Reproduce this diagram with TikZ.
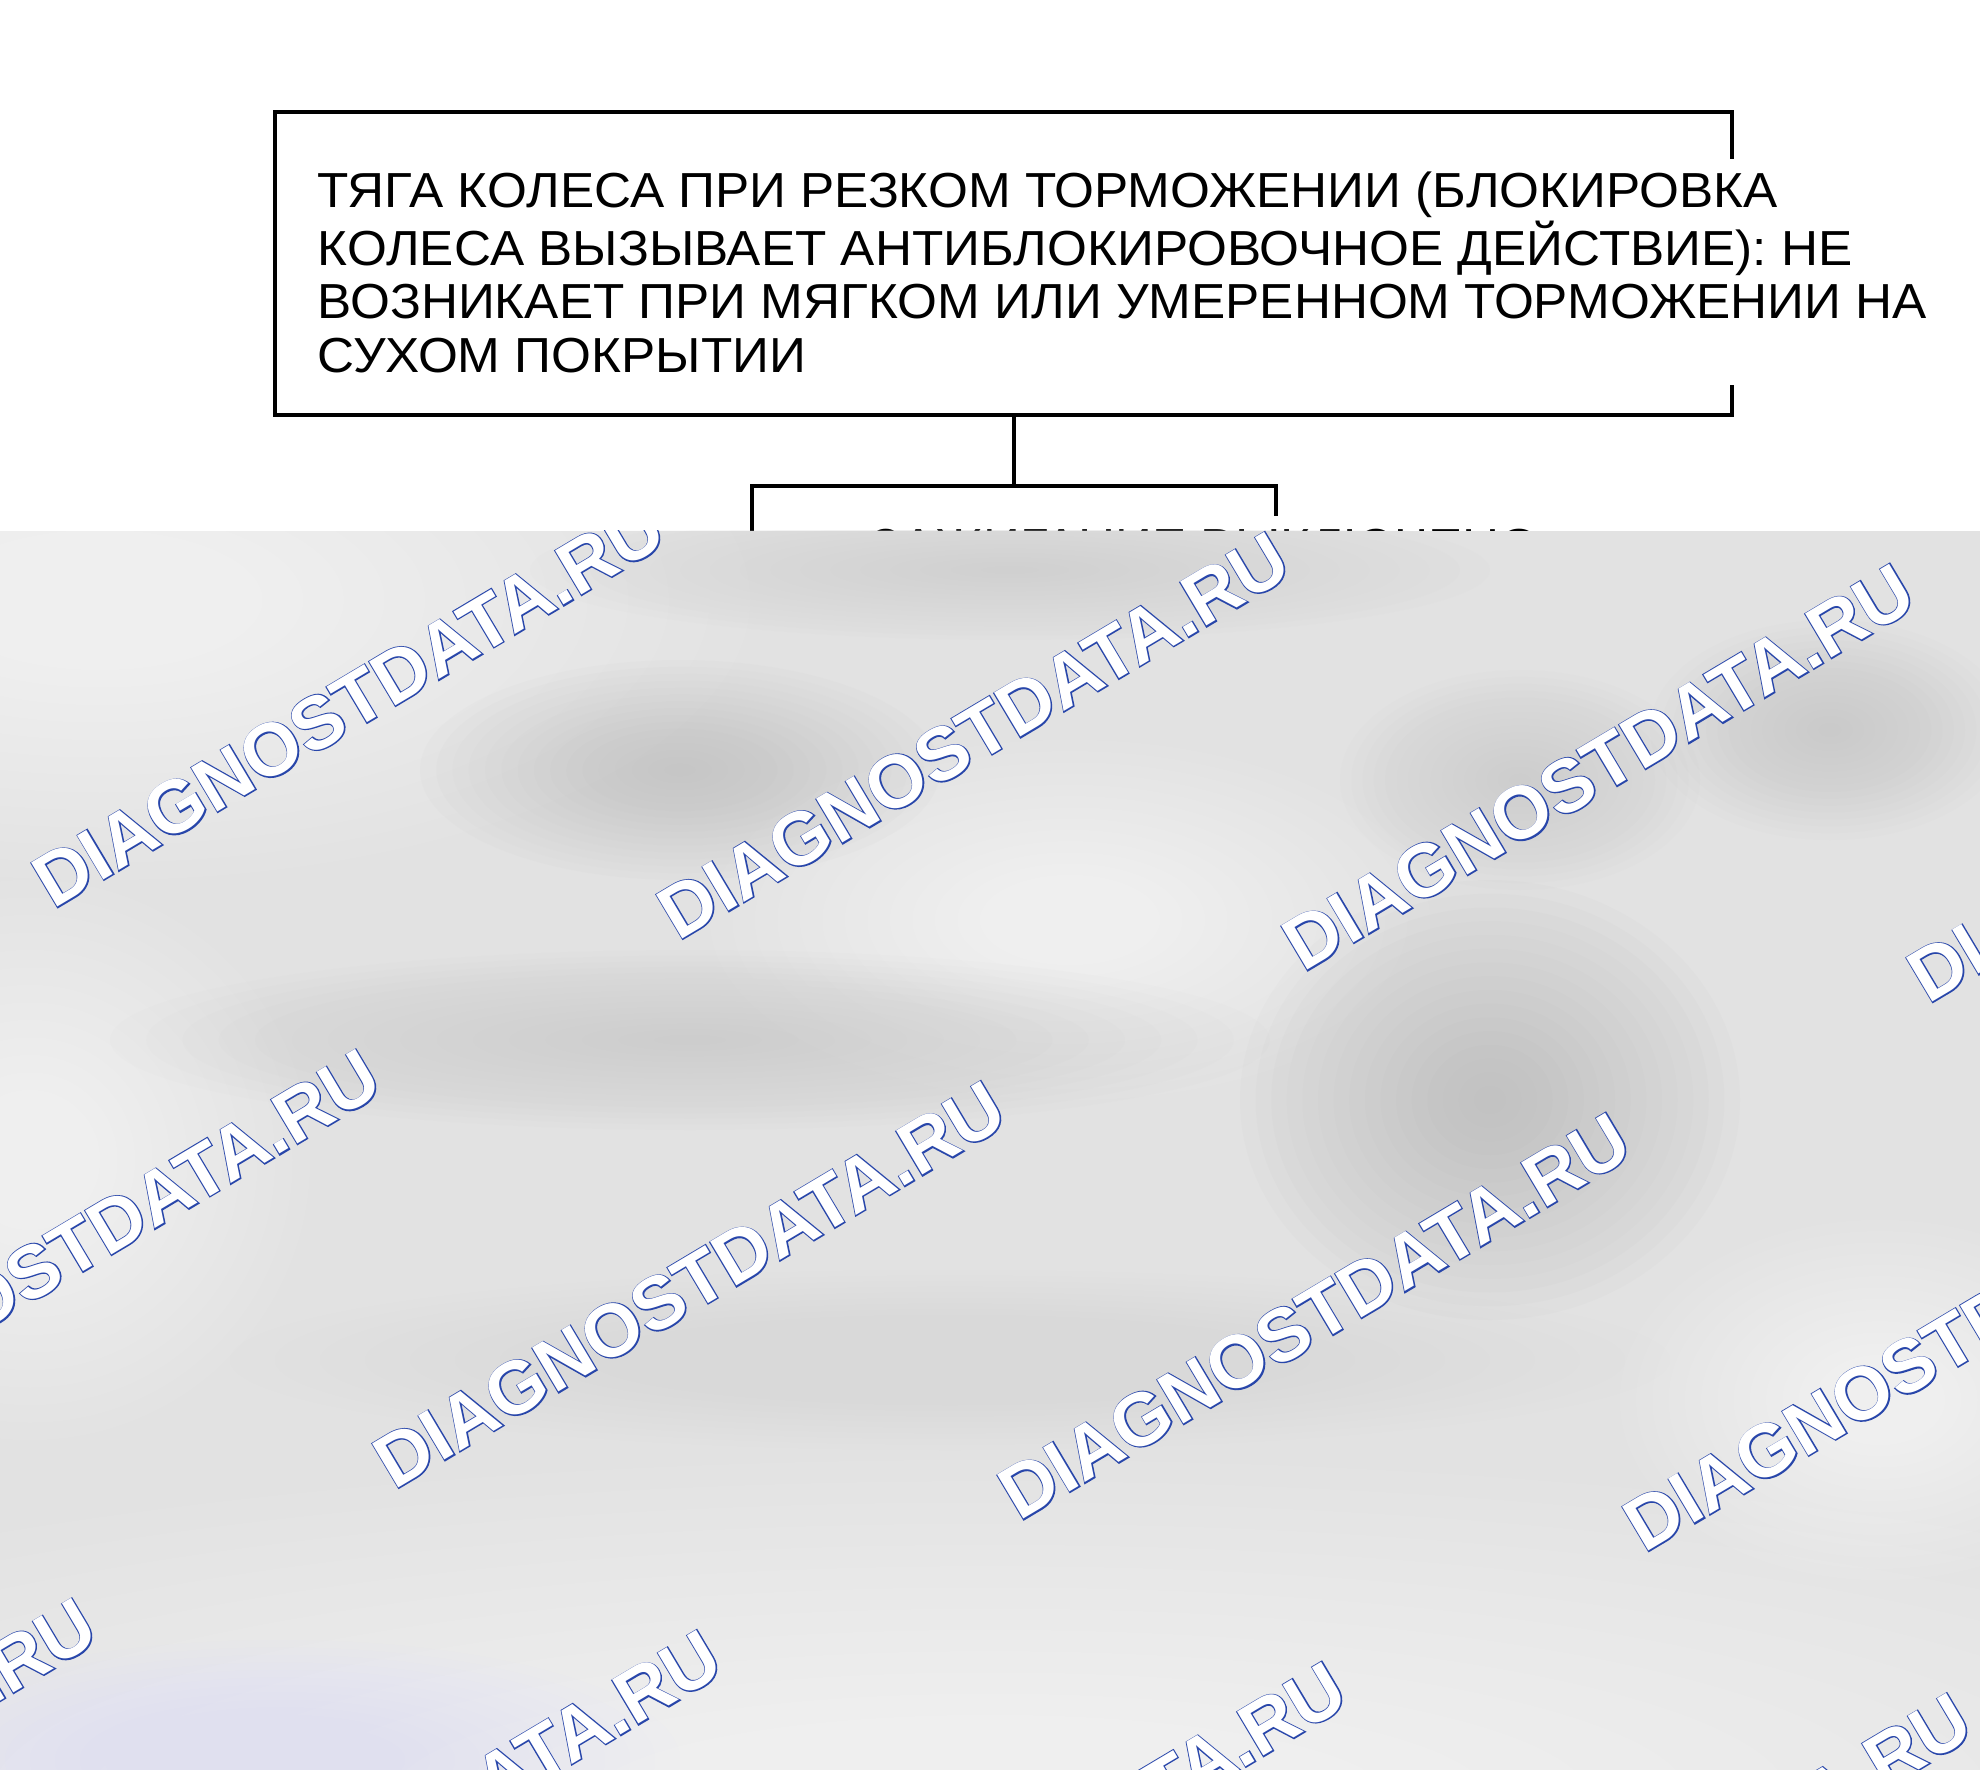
\documentclass[tikz,border=0pt]{standalone}
\usepackage{fontspec}
\usepackage{tikz}
\usetikzlibrary{positioning, calc}
\setmainfont{Liberation Sans}[FakeStretch=1.042]
\newfontfamily\markfont{Liberation Sans}[BoldFeatures={FakeBold=3}]
\newfontfamily\markfillfont{Liberation Sans}
\definecolor{markblue}{RGB}{40,70,170}
\definecolor{veilgray}{RGB}{226,226,226}

\begin{document}
\begin{tikzpicture}[
    framebox/.style={draw, line width=1.1pt, inner sep=0pt},
    boxtext/.style={fill=white, align=left, inner xsep=0pt, inner ysep=3.7pt, anchor=north west, font=\fontsize{14}{15.15}\selectfont},
    link/.style={line width=1.1pt},
    markline/.style={rotate=30.8, anchor=base west, inner sep=0pt, text=markblue, font=\markfont\bfseries\fontsize{21.2}{24}\selectfont},
    markfill/.style={rotate=30.8, anchor=base west, inner sep=0pt, text=white, font=\markfillfont\bfseries\fontsize{21.2}{24}\selectfont}
]
    \useasboundingbox (0,0) rectangle (19.8,-17.7);

    % Boxes
    \node[framebox, minimum width=14.57cm, minimum height=3.03cm] (traction) at (10.035,-2.635) {};
    \node[framebox, minimum width=5.24cm, minimum height=2.6cm, anchor=north west] (ignition) at (7.50,-4.84) {};

    % Texts
    \node[boxtext] (tractiontext) at (3.17,-1.58) {ТЯГА КОЛЕСА ПРИ РЕЗКОМ ТОРМОЖЕНИИ (БЛОКИРОВКА\\КОЛЕСА ВЫЗЫВАЕТ АНТИБЛОКИРОВОЧНОЕ ДЕЙСТВИЕ): НЕ\\ВОЗНИКАЕТ ПРИ МЯГКОМ ИЛИ УМЕРЕННОМ ТОРМОЖЕНИИ НА\\СУХОМ ПОКРЫТИИ};
    \node[boxtext] (ignitiontext) at (8.70,-5.15) {ЗАЖИГАНИЕ ВЫКЛЮЧЕНО};

    % Connector
    \draw[link] (ignition.north) -- (ignition.north |- traction.south);

    % Veil
    \begin{scope}
        \clip (0,-5.31) rectangle (19.8,-17.7);
        \fill[veilgray] (0,-5.31) rectangle (19.8,-17.7);
        \foreach \cx/\cy/\rx/\ry/\tone in {1.0/-6.0/6.5/2.8/white, 0.3/-11.6/2.8/2.8/white, 10.7/-9.2/3.6/1.8/white, 9.9/-18.0/16.0/3.4/white, 18.8/-14.0/2.6/1.8/white, 2.8/-17.6/4.0/1.2/blue!12}{
            \foreach \k in {1,...,16}{
                \fill[\tone, opacity=0.06] (\cx,\cy) ellipse [x radius=\rx*\k/16, y radius=\ry*\k/16];
            }
        }
        \foreach \cx/\cy/\rx/\ry/\tone in {6.8/-7.7/2.6/1.1/gray!55, 6.9/-10.4/5.8/0.9/gray!45, 14.9/-11.0/2.5/2.2/gray!60, 18.3/-7.3/1.8/1.1/gray!50, 15.2/-7.8/1.8/1.1/gray!45, 10.1/-5.7/4.8/0.7/gray!40, 9.5/-13.6/7.2/0.9/gray!30}{
            \foreach \k in {1,...,16}{
                \fill[\tone, opacity=0.05] (\cx,\cy) ellipse [x radius=\rx*\k/16, y radius=\ry*\k/16];
            }
        }
        % Watermarks
        \foreach \r in {0,...,3}{
            \foreach \c in {0,...,4}{
                \pgfmathsetmacro{\mx}{0.53+6.25*\c-2.84*(\r-1)}
                \pgfmathsetmacro{\my}{-(9.10+0.316*\c+5.49*(\r-1))}
                \node[markline] (mark\r\c) at (\mx,\my) {DIAGNOSTDATA.RU};
                \node[markfill] (markfill\r\c) at (\mx,\my) {DIAGNOSTDATA.RU};
            }
        }
    \end{scope}
\end{tikzpicture}
\end{document}
